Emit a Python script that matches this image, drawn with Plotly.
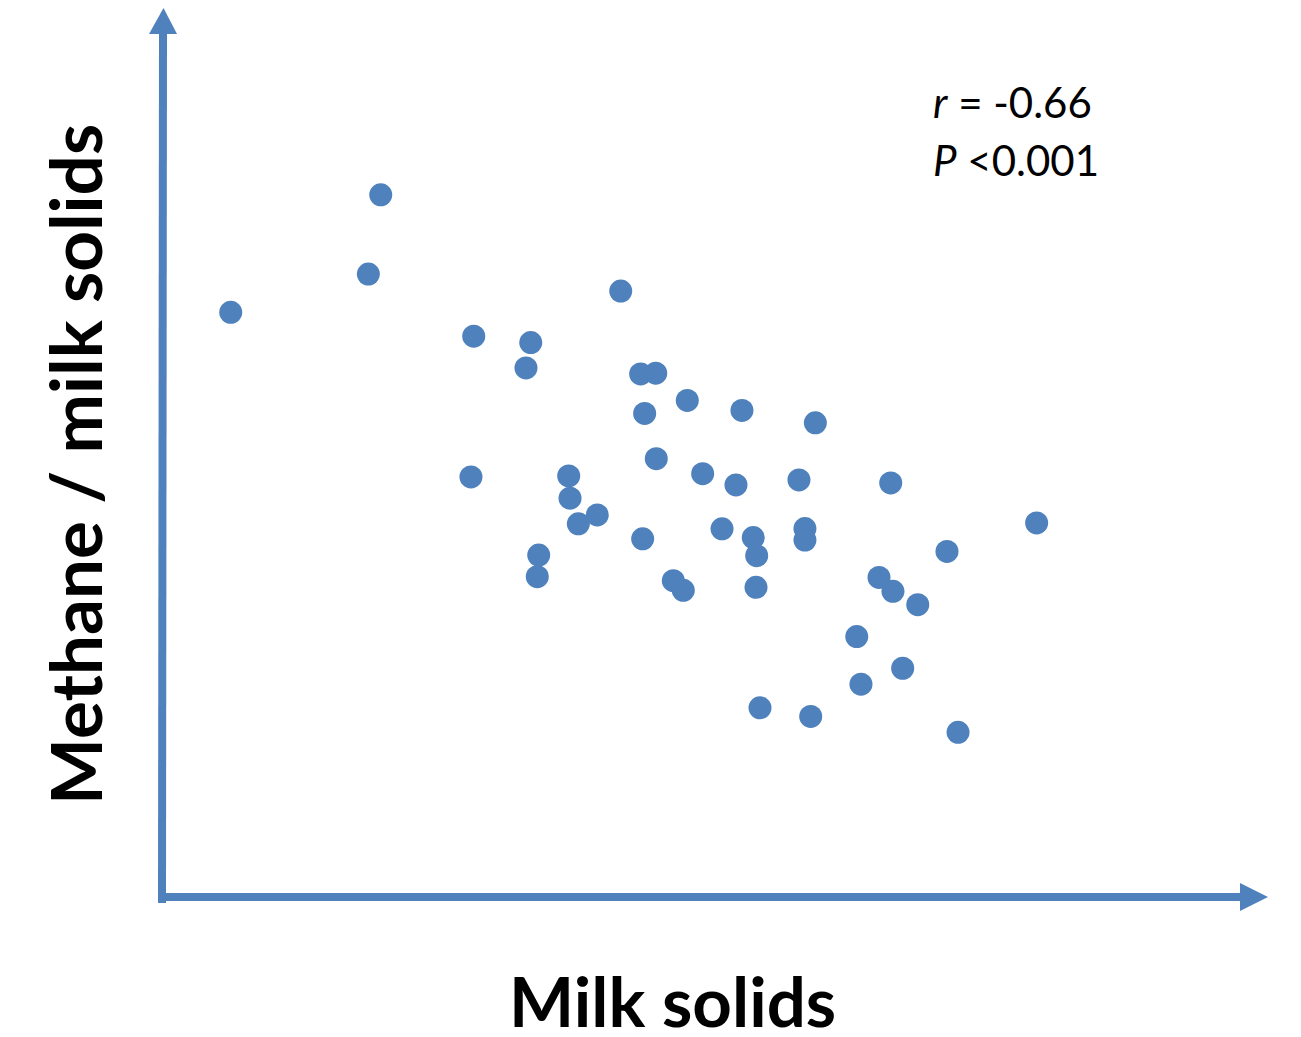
import plotly.graph_objects as go

# (arbitrary units, no tick labels in original)
milk_solids = [19.85, 18.73, 6.30, 41.53, 28.25, 33.40, 32.97, 43.33, 44.69, 47.54,
               43.69, 52.48, 59.11, 44.74, 48.93, 51.94, 57.63, 43.51, 50.68, 53.50,
               53.81, 58.17, 58.17, 46.28, 47.18, 53.75, 28.00, 36.83, 36.95, 39.41,
               37.70, 34.12, 33.99, 65.92, 79.10, 71.00, 64.86, 66.12, 68.36, 62.85,
               67.00, 63.23, 54.11, 58.69, 72.00]
methane_per_ms = [79.07, 70.15, 65.84, 68.24, 63.15, 62.44, 59.58, 58.91, 58.99, 55.92,
                  54.46, 54.80, 53.40, 49.36, 47.67, 46.40, 46.97, 40.34, 41.46, 40.48,
                  38.43, 41.49, 40.19, 35.62, 34.53, 34.87, 47.30, 47.42, 44.91, 43.03,
                  42.02, 38.51, 36.07, 46.63, 42.13, 38.91, 35.99, 34.42, 32.92, 29.33,
                  25.76, 23.97, 21.31, 20.34, 18.54]
x_title = "Milk solids"
y_title = "Methane / milk solids"
stat_r = "<i>r</i> = -0.66"
stat_p = "<i>P</i> <0.001"

BLUE = "#4F81BD"
OFF = 8  # page body margin offset
W, H = 1301 - OFF, 1037 - OFF
L, T = 161 - OFF, 0
pw, ph = 1107, 889
R, B = W - L - pw, H - T - ph

# page pixel -> paper coordinates
def px(x):
    return (x - OFF - L) / pw

def py(y):
    return (T + ph - (y - OFF)) / ph

fig = go.Figure(go.Scatter(
    x=milk_solids, y=methane_per_ms, mode="markers",
    marker=dict(color=BLUE, size=23, line=dict(width=0)),
    cliponaxis=False, hoverinfo="skip",
))

shapes = [
    dict(type="line", xref="paper", yref="paper", x0=px(162), x1=px(163), y0=py(903), y1=py(30),
         line=dict(color=BLUE, width=8)),
    dict(type="path", xref="paper", yref="paper",
         path=f"M {px(149)} {py(34)} L {px(177)} {py(34)} L {px(163.5)} {py(8)} Z",
         fillcolor=BLUE, line=dict(width=0)),
    dict(type="line", xref="paper", yref="paper", x0=px(158), x1=px(1243), y0=py(897), y1=py(897),
         line=dict(color=BLUE, width=8)),
    dict(type="path", xref="paper", yref="paper",
         path=f"M {px(1240)} {py(883)} L {px(1240)} {py(911)} L {px(1268)} {py(897)} Z",
         fillcolor=BLUE, line=dict(width=0)),
]

annotations = [
    dict(text=f"<b>{x_title}</b>", xref="paper", yref="paper", x=px(672), y=py(1000),
         xanchor="center", yanchor="middle", showarrow=False,
         font=dict(family="Lato", size=69, color="black")),
    dict(text=f"<b>{y_title}</b>", xref="paper", yref="paper", x=px(74), y=py(465),
         xanchor="center", yanchor="middle", showarrow=False, textangle=-90,
         font=dict(family="Lato", size=71, color="black")),
    dict(text=stat_r, xref="paper", yref="paper", x=px(931), y=py(102),
         xanchor="left", yanchor="middle", showarrow=False,
         font=dict(family="Lato", size=42, color="black")),
    dict(text=stat_p, xref="paper", yref="paper", x=px(931), y=py(160),
         xanchor="left", yanchor="middle", showarrow=False,
         font=dict(family="Lato", size=42, color="black")),
]

fig.update_layout(
    width=W, height=H,
    margin=dict(l=L, r=R, t=T, b=B, pad=0),
    paper_bgcolor="white", plot_bgcolor="white",
    showlegend=False,
    xaxis=dict(range=[0, 100], visible=False, fixedrange=True),
    yaxis=dict(range=[0, 100 * 890 / 889], visible=False, fixedrange=True),
    shapes=shapes, annotations=annotations,
)

fig.write_html("out.html")
